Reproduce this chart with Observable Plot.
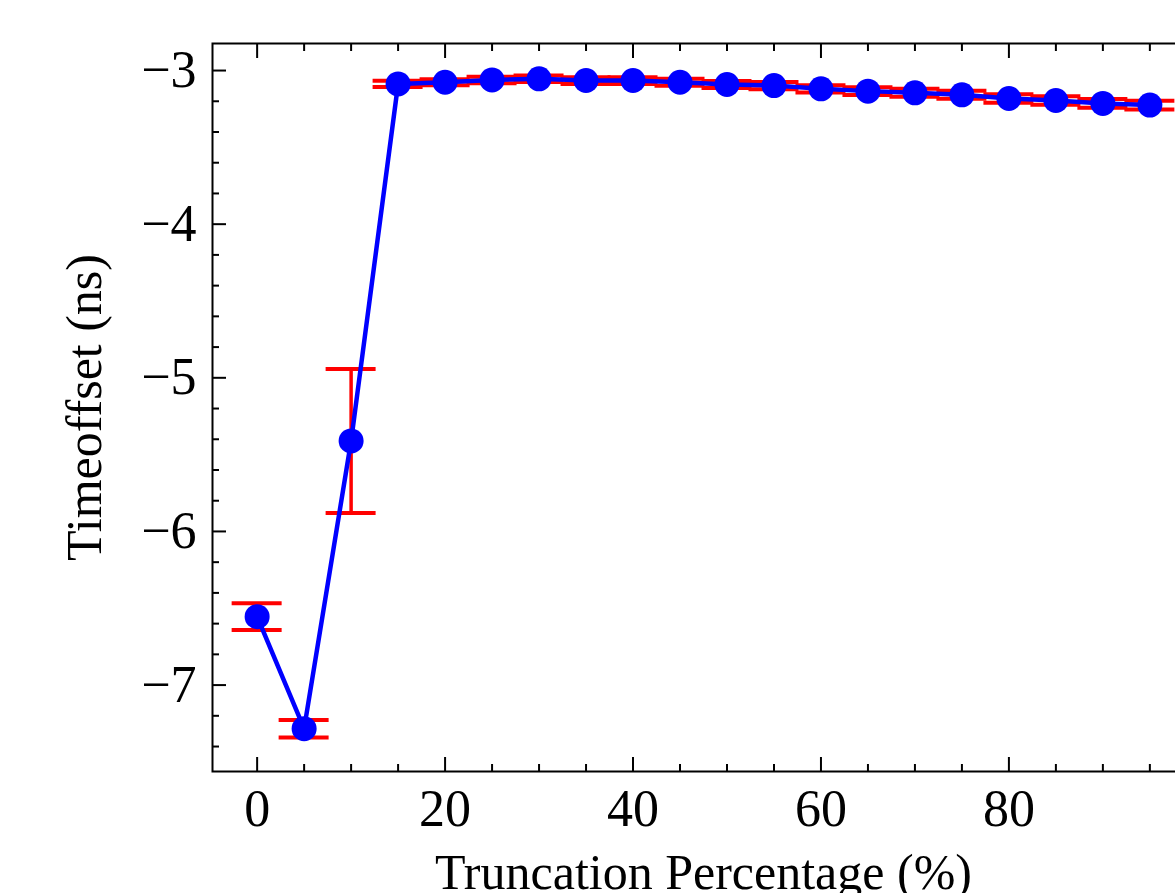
<!DOCTYPE html>
<html>
<head>
<meta charset="utf-8">
<script src="https://cdn.jsdelivr.net/npm/d3@7"></script>
<script src="https://cdn.jsdelivr.net/npm/@observablehq/plot@0.6"></script>
<style>
  html, body { margin: 0; padding: 0; background: #fff; overflow: hidden; width: 1175px; height: 893px; }
  #chart svg { display: block; max-width: none !important; }
</style>
</head>
<body>
<div id="chart"></div>
<script>
// Truncation percentage (%)
const truncation = [0, 5, 10, 15, 20, 25, 30, 35, 40, 45, 50, 55, 60, 65, 70, 75, 80, 85, 90, 95];
// Time offset (ns)
const timeOffset = [-6.555, -7.284, -5.411, -3.087, -3.076, -3.061, -3.054, -3.065, -3.065, -3.076,
                    -3.091, -3.098, -3.119, -3.134, -3.145, -3.158, -3.182, -3.195, -3.214, -3.225];
// Symmetric error (ns)
const timeError = [0.087, 0.057, 0.469, 0.020, 0.020, 0.021, 0.021, 0.022, 0.022, 0.023,
                   0.023, 0.024, 0.024, 0.025, 0.026, 0.026, 0.027, 0.028, 0.029, 0.029];

// Axis ticks
const xMajorTicks = [0, 20, 40, 60, 80];
const xMinorTicks = [5, 10, 15, 25, 30, 35, 45, 50, 55, 65, 70, 75, 85, 90, 95];
const yMajorTicks = [-7, -6, -5, -4, -3];
const yMinorTicks = [-7.4, -7.2, -6.8, -6.6, -6.4, -6.2, -5.8, -5.6, -5.4, -5.2,
                     -4.8, -4.6, -4.4, -4.2, -3.8, -3.6, -3.4, -3.2];

const xLabel = "Truncation Percentage (%)";
const yLabel = "Timeoffset (ns)";

const data = truncation.map((t, i) => ({
  x: t, y: timeOffset[i], lo: timeOffset[i] - timeError[i], hi: timeOffset[i] + timeError[i]
}));

const capHalf = 2.66; // error-bar cap half-width, in x units
const font = "'Liberation Serif', 'Times New Roman', serif";
const fs = 50;
const tfs = 52;
const noText = () => "";

const chart = Plot.plot({
  width: 1200,
  height: 893,
  marginLeft: 212,
  marginRight: 6,
  marginTop: 43,
  marginBottom: 122,
  style: { fontFamily: font, fontSize: fs + "px", color: "black", background: "white", overflow: "visible", maxWidth: "none" },
  x: { domain: [-4.75, 99.75] },
  y: { domain: [-7.5625, -2.824] },
  marks: [
    // error bars
    Plot.ruleX(data, { x: "x", y1: "lo", y2: "hi", stroke: "#ff0000", strokeWidth: 3.5 }),
    Plot.ruleY(data, { y: "lo", x1: d => d.x - capHalf, x2: d => d.x + capHalf, stroke: "#ff0000", strokeWidth: 4 }),
    Plot.ruleY(data, { y: "hi", x1: d => d.x - capHalf, x2: d => d.x + capHalf, stroke: "#ff0000", strokeWidth: 4 }),
    // line and markers
    Plot.line(data, { x: "x", y: "y", stroke: "#0000ff", strokeWidth: 4.5 }),
    Plot.dot(data, { x: "x", y: "y", r: 12.5, fill: "#0000ff", stroke: "none" }),
    // ticks (inward)
    Plot.axisX({ anchor: "bottom", ticks: xMajorTicks, tickSize: -14, tickFormat: noText, label: null, strokeWidth: 2 }),
    Plot.axisX({ anchor: "bottom", ticks: xMinorTicks, tickSize: -7, tickFormat: noText, label: null, strokeWidth: 2 }),
    Plot.axisX({ anchor: "top", ticks: xMajorTicks, tickSize: -14, tickFormat: noText, label: null, strokeWidth: 2 }),
    Plot.axisX({ anchor: "top", ticks: xMinorTicks, tickSize: -7, tickFormat: noText, label: null, strokeWidth: 2 }),
    Plot.axisY({ anchor: "left", ticks: yMajorTicks, tickSize: -14, tickFormat: noText, label: null, strokeWidth: 2 }),
    Plot.axisY({ anchor: "left", ticks: yMinorTicks, tickSize: -7, tickFormat: noText, label: null, strokeWidth: 2 }),
    // tick labels
    Plot.axisX({ anchor: "bottom", ticks: xMajorTicks, tickSize: 0, tickPadding: 18, label: null, fontSize: tfs, tickFormat: d => String(d) }),
    Plot.axisY({ anchor: "left", ticks: yMajorTicks, tickSize: 0, tickPadding: 16, label: null, fontSize: tfs, tickFormat: d => (d < 0 ? "\u2212" : "") + Math.abs(d) }),
    // axis titles
    Plot.text([xLabel], { text: d => d, frameAnchor: "bottom", dy: 101, fontSize: fs, lineAnchor: "middle", textAnchor: "middle", fill: "black", letterSpacing: "1.8px" }),
    Plot.text([yLabel], { text: d => d, frameAnchor: "left", dx: -128, rotate: -90, fontSize: fs, lineAnchor: "middle", textAnchor: "middle", fill: "black", letterSpacing: "1.6px" }),
    Plot.frame({ stroke: "black", strokeWidth: 2 })
  ]
});

document.getElementById("chart").appendChild(chart);
</script>
</body>
</html>
